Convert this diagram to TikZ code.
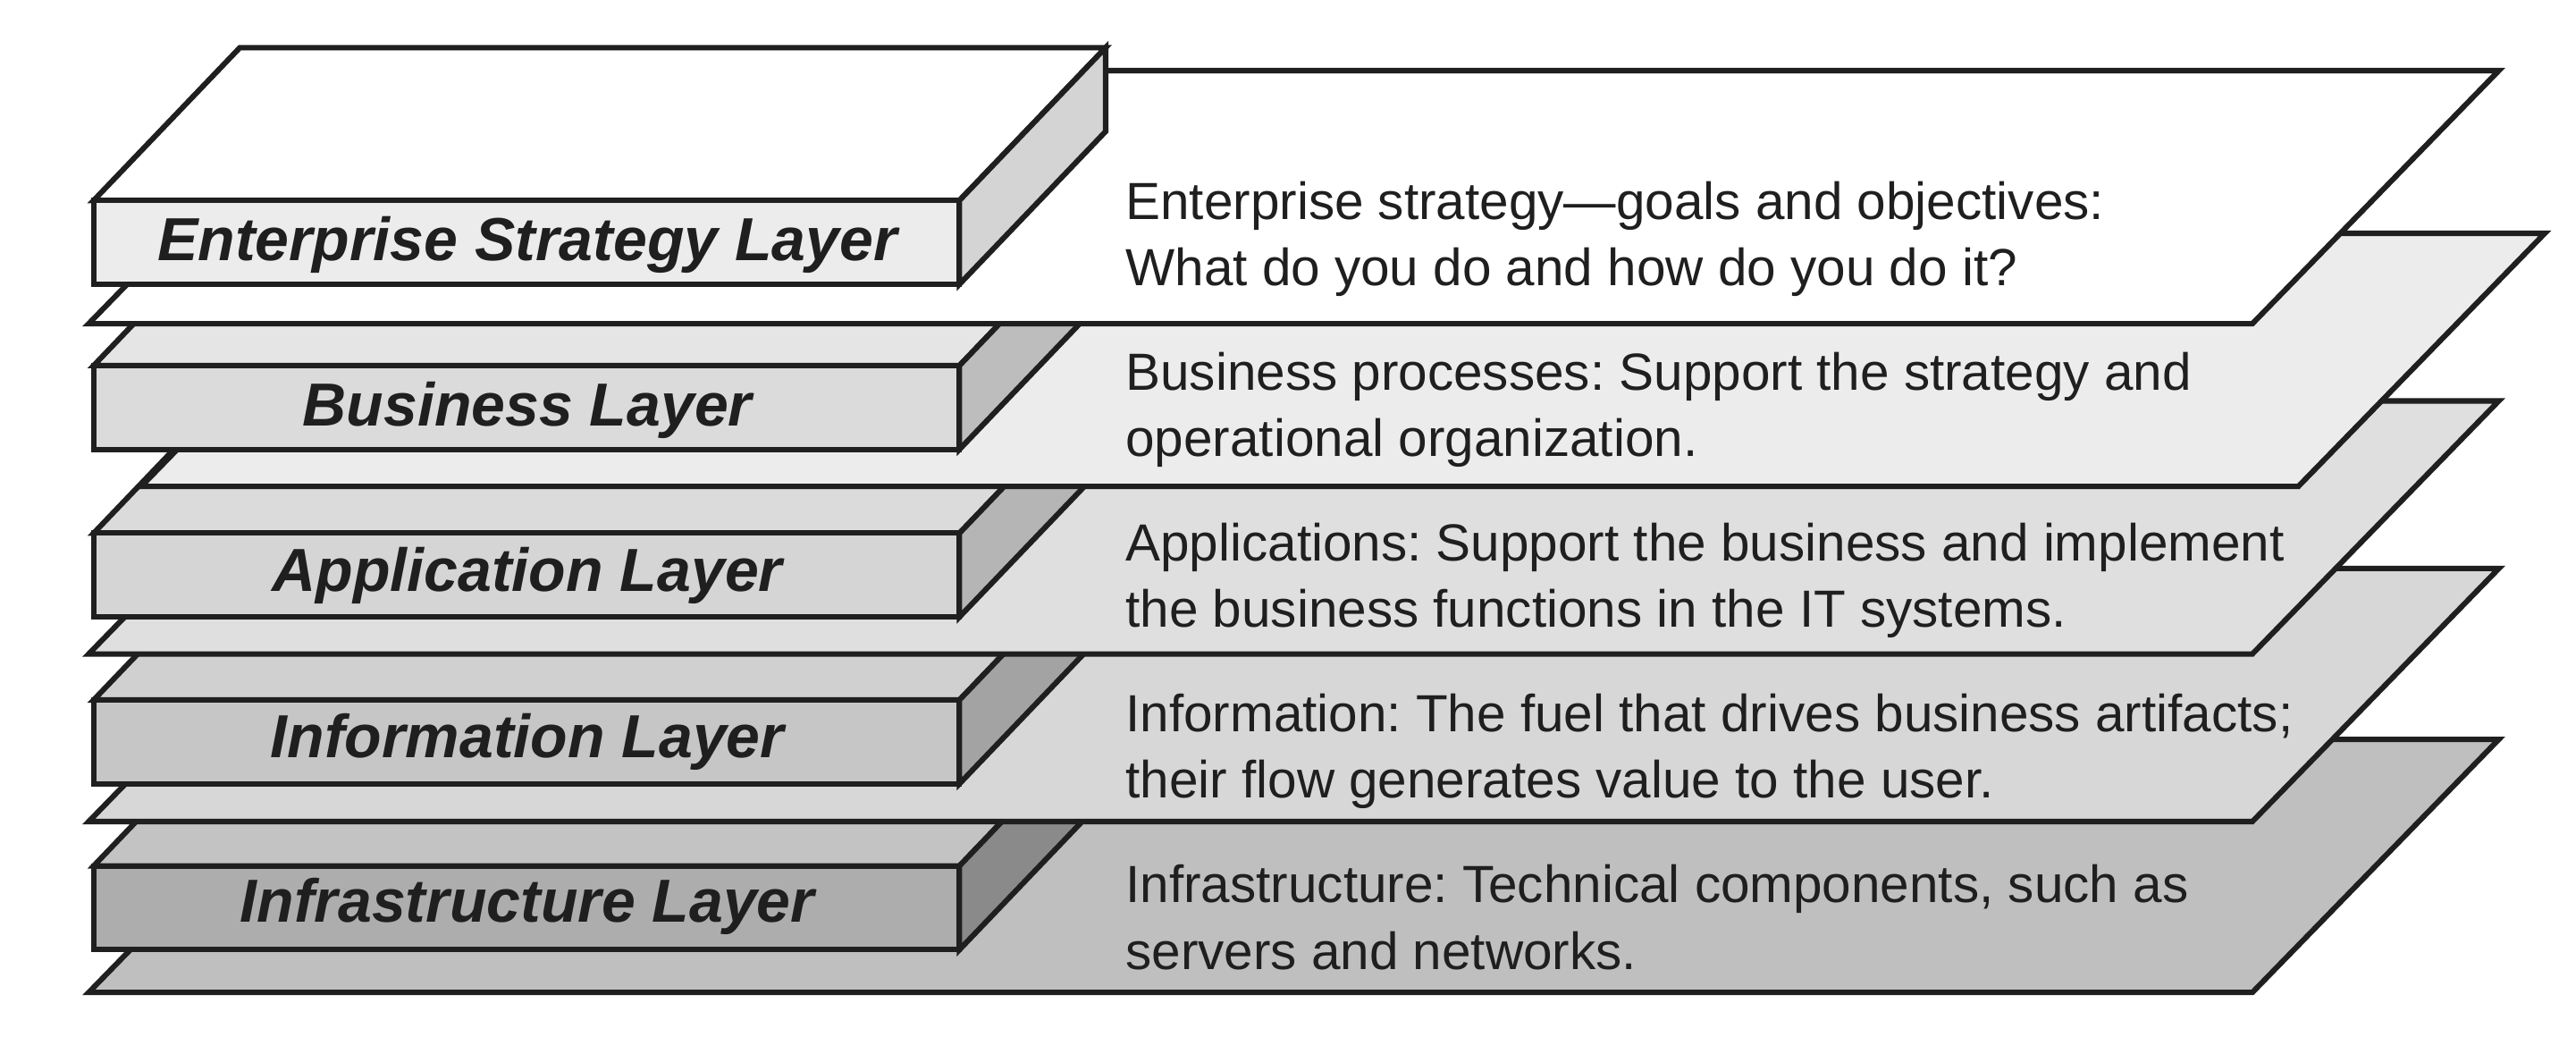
\documentclass[tikz,border=0pt]{standalone}
\usepackage{fontspec}
\setmainfont{Liberation Sans}
\frenchspacing
\definecolor{pA}{gray}{1.0}
\definecolor{pB}{gray}{0.925}
\definecolor{pC}{gray}{0.875}
\definecolor{pD}{gray}{0.845}
\definecolor{pE}{gray}{0.75}
\definecolor{fA}{gray}{0.925}
\definecolor{fB}{gray}{0.86}
\definecolor{fC}{gray}{0.835}
\definecolor{fD}{gray}{0.775}
\definecolor{fE}{gray}{0.68}
\definecolor{tA}{gray}{1.0}
\definecolor{tB}{gray}{0.90}
\definecolor{tC}{gray}{0.86}
\definecolor{tD}{gray}{0.815}
\definecolor{tE}{gray}{0.765}
\definecolor{sA}{gray}{0.83}
\definecolor{sB}{gray}{0.74}
\definecolor{sC}{gray}{0.71}
\definecolor{sD}{gray}{0.64}
\definecolor{sE}{gray}{0.54}
\definecolor{ink}{gray}{0.12}
\newcommand\myplane[4]{%
  \draw[face,fill=#4] (#1,#3) -- (#2,#3) -- ++(150,-154) -- ({#1+150},{#3-154}) -- cycle;}
\newcommand\myslab[4]{%
  \draw[face,fill=#3] (57,#1) -- (584,#1) -- ++(89,-93) -- ++(-527,0) -- cycle;
  \draw[face,fill=#4] (584,#1) -- ++(89,-93) -- ++(0,51) -- ++(-89,93) -- cycle;
  \draw[face,fill=#2] (57,#1) rectangle (584,{#1+51});}
\begin{document}
\begin{tikzpicture}[x=1pt,y=-1pt,
  face/.style={draw=ink, line width=3.3pt, line join=miter},
  desc/.style={anchor=base west, inner sep=0pt, font=\fontsize{31.8}{40}\selectfont\frenchspacing, text=ink},
  lbl/.style={anchor=base, inner sep=0pt, font=\fontsize{37}{44}\selectfont\bfseries\itshape, text=ink}]
\useasboundingbox[fill=white] (0,0) rectangle (1568,631.1);
% layer 5
\myplane{54}{1371}{604}{pE}
\myslab{527}{fE}{tE}{sE}
\node[lbl] (l5) at (321,561) {Infrastructure Layer};
\node[desc] (d5a) at (685,549) {Infrastructure: Technical components, such as};
\node[desc] (d5b) at (685,590) {servers and networks.};
% layer 4
\myplane{54}{1371}{500}{pD}
\myslab{426}{fD}{tD}{sD}
\node[lbl] (l4) at (321,461) {Information Layer};
\node[desc] (d4a) at (685,445.3) {Information: The fuel that drives business artifacts;};
\node[desc] (d4b) at (685,485.5) {their flow generates value to the user.};
% layer 3
\myplane{54}{1371}{398}{pC}
\myslab{324.5}{fC}{tC}{sC}
\node[lbl] (l3) at (321,360) {Application Layer};
\node[desc] (d3a) at (685,341.6) {Applications: Support the business and implement};
\node[desc] (d3b) at (685,381.8) {the business functions in the IT systems.};
% layer 2
\myplane{86}{1399}{296}{pB}
\myslab{222.5}{fB}{tB}{sB}
\node[lbl] (l2) at (321,259) {Business Layer};
\node[desc] (d2a) at (685,237.6) {Business processes: Support the strategy and};
\node[desc] (d2b) at (685,278) {operational organization.};
% layer 1
\myplane{54}{1371}{197}{pA}
\myslab{122}{fA}{tA}{sA}
\node[lbl] (l1) at (321,158.4) {Enterprise Strategy Layer};
\node[desc] (d1a) at (685,133.5) {Enterprise strategy—goals and objectives:};
\node[desc] (d1b) at (685,174) {What do you do and how do you do it?};
\end{tikzpicture}
\end{document}
